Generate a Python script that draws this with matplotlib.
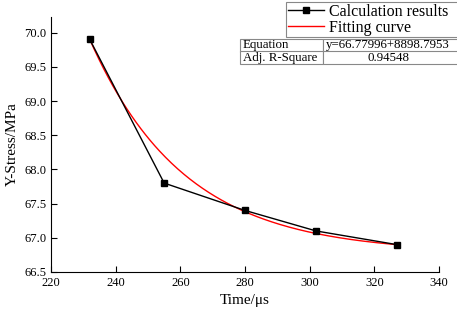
import numpy as np
import matplotlib.pyplot as plt
from matplotlib.patches import Rectangle

plt.rcParams['font.family'] = ['Liberation Serif', 'DejaVu Serif']

# measured points
time_us = [232, 255, 280, 302, 327]
stress_mpa = [69.9, 67.8, 67.4, 67.1, 66.9]

# exponential fit y = y0 + A*exp(-x/t1)
y0 = 66.77996
amp = 8898.7953
t1 = 29.16
eq_text = 'y=66.77996+8898.7953'
r2_text = '0.94548'

W, H = 457, 313
fig = plt.figure(figsize=(W / 100, H / 100), dpi=100)
ax = fig.add_axes([0.1116, 0.131, 0.849, 0.815])

xf = np.linspace(min(time_us), max(time_us), 200)
yf = y0 + amp * np.exp(-xf / t1)

ax.plot(time_us, stress_mpa, color='black', lw=1.0, marker='s', ms=5,
        label='Calculation results', zorder=3)
ax.plot(xf, yf, color='red', lw=1.0, label='Fitting curve', zorder=2)

ax.set_xlim(220, 340)
ax.set_ylim(66.5, 70.23)
ax.set_xticks(np.arange(220, 341, 20))
ax.set_yticks(np.arange(66.5, 70.01, 0.5))
ax.yaxis.set_major_formatter(plt.FormatStrFormatter('%.1f'))
ax.tick_params(direction='in', labelsize=9, length=4, width=0.8)
ax.spines['top'].set_visible(False)
ax.spines['right'].set_visible(False)
ax.set_xlabel('Time/\u03bcs', fontsize=11)
ax.set_ylabel('Y-Stress/MPa', fontsize=11)

leg = fig.legend(loc='upper left', bbox_to_anchor=(286 / W, 1 - 2 / H, 0.4, 0.0),
                 mode='expand', fontsize=11.5, frameon=True, fancybox=False,
                 edgecolor='#888888', framealpha=1, borderpad=0.1,
                 labelspacing=0.0, handlelength=2.3, handletextpad=0.3,
                 borderaxespad=0)
leg.get_frame().set_linewidth(0.8)


# fit-result table, drawn in figure pixel coordinates
def px(x, y):
    return x / W, 1 - y / H


rows = [['Equation', eq_text], ['Adj. R-Square', r2_text]]
col_x = [240, 323, 470]
row_y = [39, 51.5, 64]
for i, row in enumerate(rows):
    for j, txt in enumerate(row):
        x0, yb = px(col_x[j], row_y[i + 1])
        w = (col_x[j + 1] - col_x[j]) / W
        h = (row_y[i + 1] - row_y[i]) / H
        fig.patches.append(Rectangle((x0, yb), w, h, transform=fig.transFigure,
                                     facecolor='white', edgecolor='#888888',
                                     lw=0.8, clip_on=False))
        yc = 1 - (row_y[i] + row_y[i + 1]) / 2 / H
        if j == 0:
            fig.text(x0 + 3 / W, yc, txt, fontsize=9.3, ha='left', va='center')
        else:
            fig.text(388 / W, yc, txt, fontsize=9.3, ha='center', va='center')

fig.savefig('out.png', dpi=100)
